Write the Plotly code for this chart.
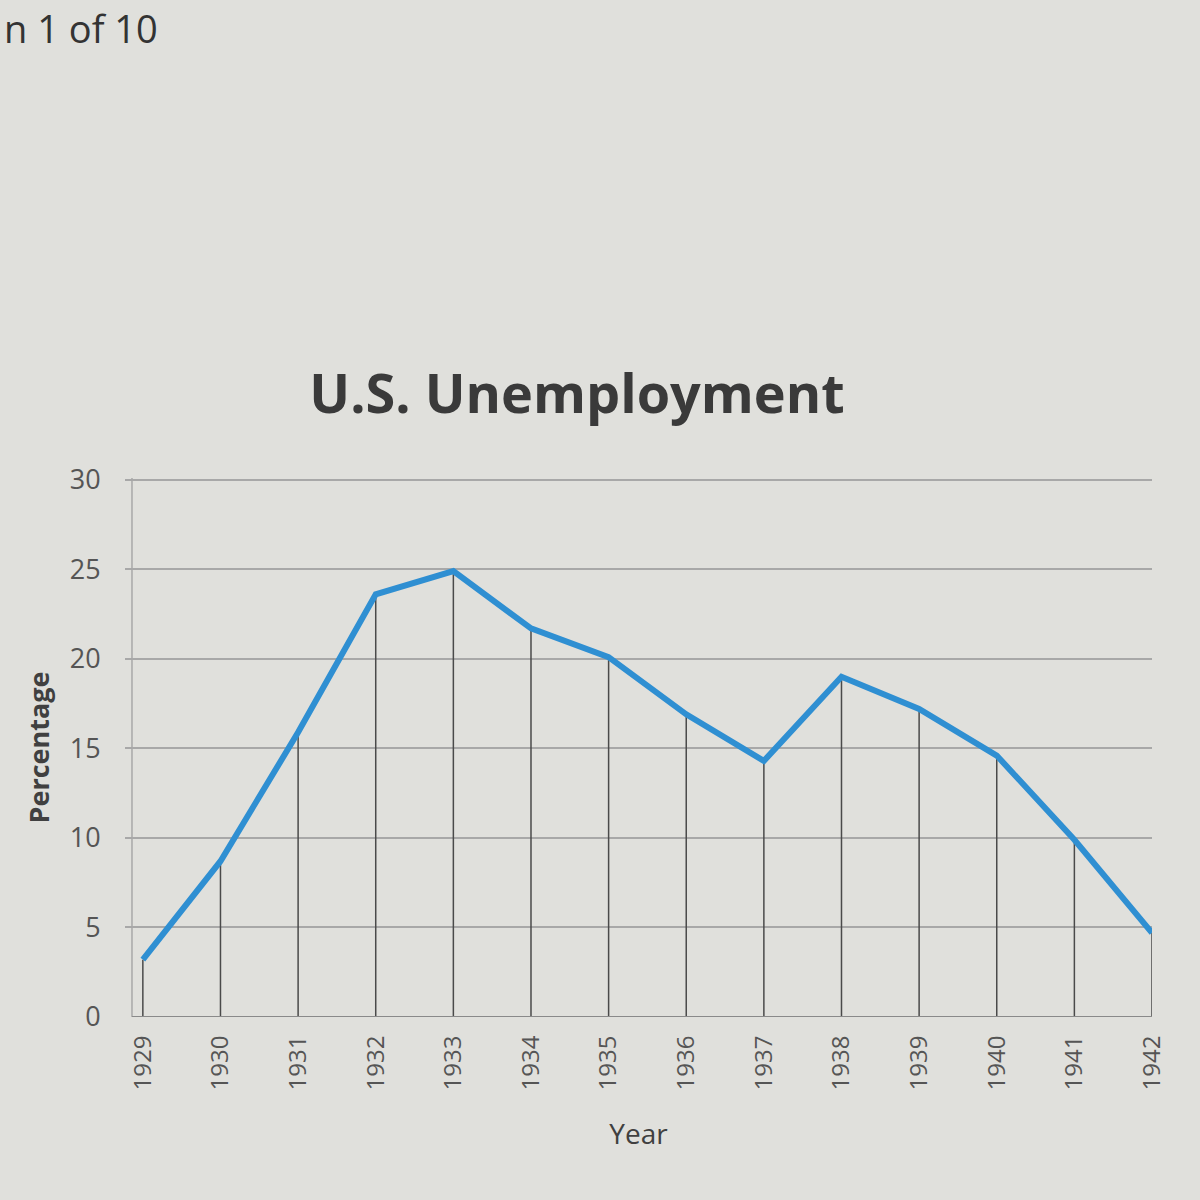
import plotly.graph_objects as go

years = ["1929", "1930", "1931", "1932", "1933", "1934", "1935",
         "1936", "1937", "1938", "1939", "1940", "1941", "1942"]
unemployment = [3.2, 8.7, 15.9, 23.6, 24.9, 21.7, 20.1,
                16.9, 14.3, 19.0, 17.2, 14.6, 9.9, 4.7]
y_ticks = [0, 5, 10, 15, 20, 25, 30]

bg = "#e0e0dc"
x_idx = list(range(len(years)))

L, R, T, B = 125, 48, 478, 183
W = H = 1200
pw, ph = W - L - R, H - T - B

fig = go.Figure()
fig.add_trace(go.Scatter(
    x=x_idx, y=unemployment, mode="lines",
    line=dict(color="#2f8fd2", width=6),
    error_y=dict(type="data", symmetric=False,
                 array=[0] * len(unemployment), arrayminus=unemployment,
                 width=0, color="#4a4a4a", thickness=1.5),
    showlegend=False,
))

fig.update_layout(
    width=W, height=H,
    paper_bgcolor=bg, plot_bgcolor=bg,
    margin=dict(l=L, r=R, t=T, b=B),
    title=dict(text="<b>U.S. Unemployment</b>", x=577 / W, xanchor="center",
               y=1 - 394 / H, yanchor="middle",
               font=dict(family="Open Sans", size=54, color="#3a3a3a")),
    font=dict(family="Open Sans", color="#555555"),
    annotations=[dict(text="n 1 of 10", xref="paper", yref="paper",
                      x=-(L - 2) / pw, y=1 + (T - 28) / ph,
                      showarrow=False, xanchor="left", yanchor="middle",
                      font=dict(family="Open Sans", size=38, color="#333333"))],
)

fig.update_xaxes(
    range=[-0.23, 13], tickmode="array", tickvals=x_idx, ticktext=years,
    tickangle=-90, tickfont=dict(size=24, color="#555555"),
    ticks="outside", ticklen=8, tickcolor=bg,
    showgrid=False, zeroline=False, showline=False,
    title=dict(text="Year", font=dict(size=28, color="#404040"), standoff=34),
)
fig.update_yaxes(
    range=[0, 30.1], tickvals=y_ticks, tickfont=dict(size=27, color="#555555"),
    showgrid=True, gridcolor="#a8a8a8", gridwidth=1.5,
    zeroline=False, showline=False, ticks="outside", ticklen=18, tickcolor=bg,
    title=dict(text="<b>Percentage</b>", font=dict(size=27, color="#404040"),
               standoff=12),
)
fig.add_shape(type="line", xref="x", yref="paper", x0=-0.14, x1=-0.14, y0=0, y1=1,
              line=dict(color="#a8a8a8", width=1.5))
fig.add_shape(type="line", xref="x", yref="y", x0=-0.14, x1=13, y0=0, y1=0,
              line=dict(color="#8a8a8a", width=2))

fig.write_html("out.html", config={"displayModeBar": False},
               post_script="document.body.style.margin='0';"
                           "document.body.style.background='%s';" % bg)
